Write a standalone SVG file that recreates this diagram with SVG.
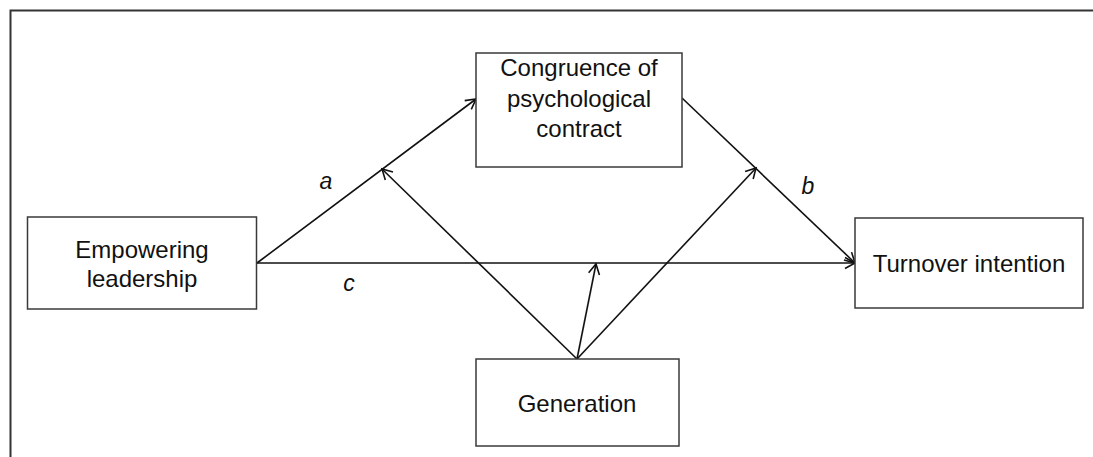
<svg xmlns="http://www.w3.org/2000/svg" width="1093" height="457" viewBox="0 0 1093 457">
<style>
.box{fill:#fff;stroke:#3a3a3a;stroke-width:1.5}
.t{font-family:"Liberation Sans",Arial,sans-serif;font-size:24px;fill:#111;text-anchor:middle}
.lbl{font-family:"Liberation Sans",Arial,sans-serif;font-size:23px;font-style:italic;fill:#111;text-anchor:middle}
.ln{stroke:#111;stroke-width:1.6;fill:none}
</style>
<defs>
<marker id="arr" markerUnits="userSpaceOnUse" markerWidth="14" markerHeight="14" refX="11" refY="6" orient="auto" viewBox="0 0 14 12">
<path d="M1,0.5 L11,6 L1,11.5" fill="none" stroke="#111" stroke-width="1.6"/>
</marker>
</defs>
<rect width="1093" height="457" fill="#fff"/>
<g id="frame">
<path d="M10.5,457 L10.5,10.5 L1093,10.5" fill="none" stroke="#333" stroke-width="2"/>
</g>
<g id="connectors">
<line class="ln" x1="257" y1="263" x2="476" y2="99" marker-end="url(#arr)"/>
<line class="ln" x1="257" y1="263" x2="855" y2="263" marker-end="url(#arr)"/>
<line class="ln" x1="682" y1="98" x2="855" y2="263" marker-end="url(#arr)"/>
<line class="ln" x1="577" y1="359" x2="382" y2="169" marker-end="url(#arr)"/>
<line class="ln" x1="577" y1="359" x2="596" y2="264" marker-end="url(#arr)"/>
<line class="ln" x1="577" y1="359" x2="756" y2="168" marker-end="url(#arr)"/>
<text class="lbl" x="326" y="189">a</text>
<text class="lbl" x="808" y="194">b</text>
<text class="lbl" x="349" y="291">c</text>
</g>
<g id="empowering">
<rect class="box" x="27.5" y="217" width="229" height="92"/>
<text class="t" x="142" y="258">Empowering</text>
<text class="t" x="142" y="287">leadership</text>
</g>
<g id="congruence">
<rect class="box" x="476" y="53" width="206" height="114"/>
<text class="t" x="579" y="76">Congruence of</text>
<text class="t" x="579" y="107">psychological</text>
<text class="t" x="579" y="137">contract</text>
</g>
<g id="turnover">
<rect class="box" x="855" y="218" width="228" height="90"/>
<text class="t" x="969" y="272">Turnover intention</text>
</g>
<g id="generation">
<rect class="box" x="476" y="359" width="203" height="87"/>
<text class="t" x="577" y="412">Generation</text>
</g>
</svg>
